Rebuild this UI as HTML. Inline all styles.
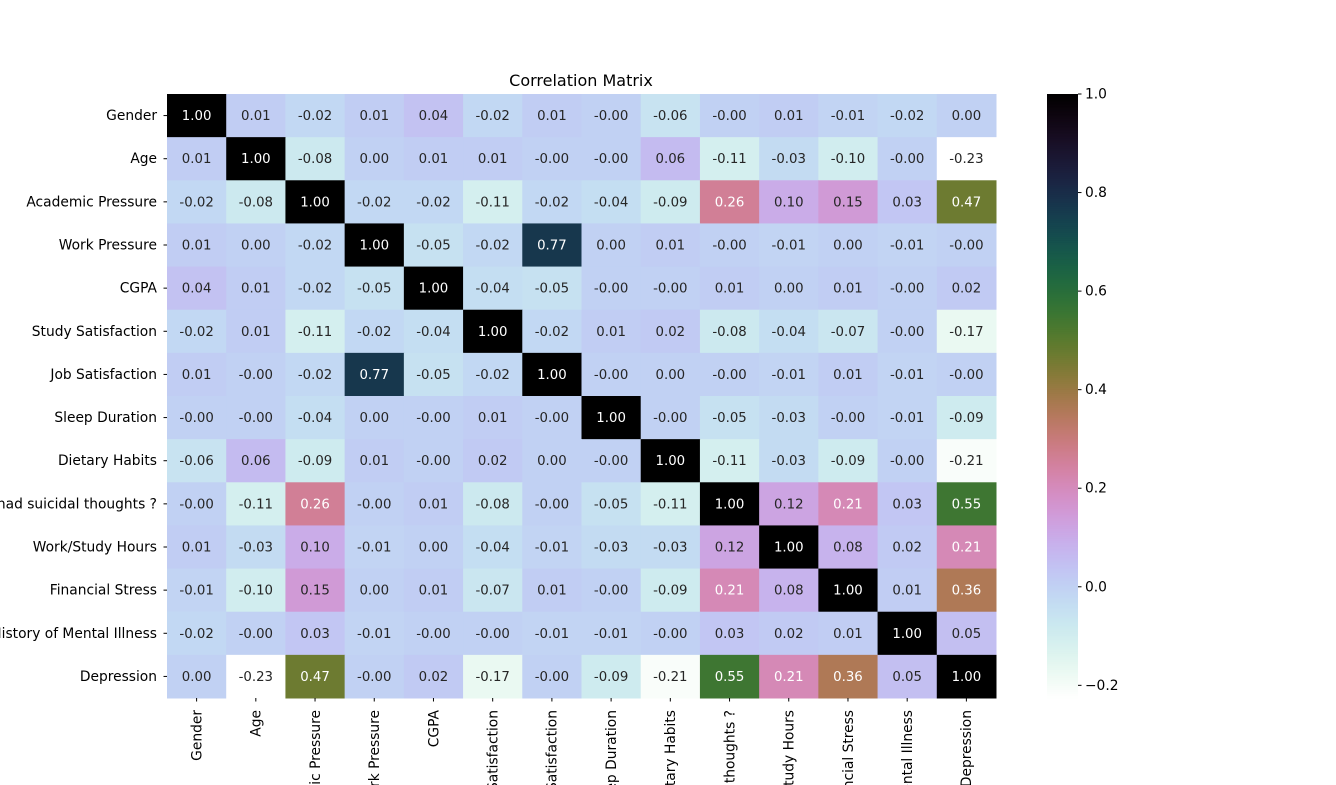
<!DOCTYPE html>
<html><head><meta charset="utf-8"><style>
html,body{margin:0;padding:0;background:#fff;width:1336px;height:785px;overflow:hidden}
svg{display:block;overflow:hidden;font-family:"DejaVu Sans","Liberation Sans",sans-serif}
</style></head><body>
<svg id="chart" width="1336" height="785" xmlns="http://www.w3.org/2000/svg">
<text x="581" y="86" text-anchor="middle" font-size="16">Correlation Matrix</text>
<g id="cells"></g><g id="ylabels"></g><g id="xlabels"></g><g id="cbar"></g>
</svg>
<script>
const labels = ["Gender","Age","Academic Pressure","Work Pressure","CGPA","Study Satisfaction","Job Satisfaction","Sleep Duration","Dietary Habits","Have you ever had suicidal thoughts ?","Work/Study Hours","Financial Stress","Family History of Mental Illness","Depression"];
const Z=-0.001;
const matrix = [
[1.00,0.01,-0.02,0.01,0.04,-0.02,0.01,Z,-0.06,Z,0.01,-0.01,-0.02,0.00],
[0.01,1.00,-0.08,0.00,0.01,0.01,Z,Z,0.06,-0.11,-0.03,-0.10,Z,-0.23],
[-0.02,-0.08,1.00,-0.02,-0.02,-0.11,-0.02,-0.04,-0.09,0.26,0.10,0.15,0.03,0.47],
[0.01,0.00,-0.02,1.00,-0.05,-0.02,0.77,0.00,0.01,Z,-0.01,0.00,-0.01,Z],
[0.04,0.01,-0.02,-0.05,1.00,-0.04,-0.05,Z,Z,0.01,0.00,0.01,Z,0.02],
[-0.02,0.01,-0.11,-0.02,-0.04,1.00,-0.02,0.01,0.02,-0.08,-0.04,-0.07,Z,-0.17],
[0.01,Z,-0.02,0.77,-0.05,-0.02,1.00,Z,0.00,Z,-0.01,0.01,-0.01,Z],
[Z,Z,-0.04,0.00,Z,0.01,Z,1.00,Z,-0.05,-0.03,Z,-0.01,-0.09],
[-0.06,0.06,-0.09,0.01,Z,0.02,0.00,Z,1.00,-0.11,-0.03,-0.09,Z,-0.21],
[Z,-0.11,0.26,Z,0.01,-0.08,Z,-0.05,-0.11,1.00,0.12,0.21,0.03,0.55],
[0.01,-0.03,0.10,-0.01,0.00,-0.04,-0.01,-0.03,-0.03,0.12,1.00,0.08,0.02,0.21],
[-0.01,-0.10,0.15,0.00,0.01,-0.07,0.01,Z,-0.09,0.21,0.08,1.00,0.01,0.36],
[-0.02,Z,0.03,-0.01,Z,Z,-0.01,-0.01,Z,0.03,0.02,0.01,1.00,0.05],
[0.00,-0.23,0.47,Z,0.02,-0.17,Z,-0.09,-0.21,0.55,0.21,0.36,0.05,1.00]];
const cbarTicks = [-0.2,0.0,0.2,0.4,0.6,0.8,1.0];
const vmin=-0.2257, vmax=1.0;
const X0=167,X1=996,Y0=94,Y1=698;
const FS=13.8;
const n=labels.length, cw=(X1-X0)/n, ch=(Y1-Y0)/n;
const NS="http://www.w3.org/2000/svg";
function cube(v){
  let t=(v-vmin)/(vmax-vmin); t=Math.max(0,Math.min(1,t)); const x=1-t;
  const a=x*(1-x)/2, phi=2*Math.PI*(0.5/3-1.5*x), c=Math.cos(phi), s=Math.sin(phi);
  const cl=q=>Math.max(0,Math.min(1,q));
  return [cl(x+a*(-0.14861*c+1.78277*s)),cl(x+a*(-0.29227*c-0.90649*s)),cl(x+a*(1.97294*c))];
}
function rgb(c){return `rgb(${c.map(q=>Math.round(q*255)).join(',')})`;}
function lum(c){const f=q=>q<=0.03928?q/12.92:Math.pow((q+0.055)/1.055,2.4);return 0.2126*f(c[0])+0.7152*f(c[1])+0.0722*f(c[2]);}
function el(t,at,p){const e=document.createElementNS(NS,t);for(const k in at)e.setAttribute(k,at[k]);p.appendChild(e);return e;}
const cells=document.getElementById('cells');
for(let i=0;i<n;i++)for(let j=0;j<n;j++){
  const v=matrix[i][j], c=cube(v);
  const r=el('rect',{x:X0+j*cw,y:Y0+i*ch,width:cw+0.5,height:ch+0.5,fill:rgb(c)},cells);
  
  
  const t=el('text',{x:X0+(j+0.5)*cw,y:Y0+(i+0.5)*ch+4.5,'text-anchor':'middle','font-size':13.3,fill:lum(c)<0.408?'#fff':'#262626'},cells);
  
  
  t.textContent=v.toFixed(2);
}
const yl=document.getElementById('ylabels'), xl=document.getElementById('xlabels');
labels.forEach((l,i)=>{
  const y=Y0+(i+0.5)*ch;
  el('line',{x1:X0-3.5,x2:X0,y1:y,y2:y,stroke:'#000'},yl);
  const t=el('text',{x:X0-10,y:y+4.5,'text-anchor':'end','font-size':FS},yl);
  
  
  t.textContent=l;
  const x=X0+(i+0.5)*cw;
  el('line',{x1:x,x2:x,y1:Y1,y2:Y1+3.5,stroke:'#000'},xl);
  const u=el('text',{x:0,y:0,'text-anchor':'end','font-size':FS,transform:`translate(${x+4.8},${Y1+12}) rotate(-90)`},xl);
  
  
  u.textContent=l;
});
const cb=document.getElementById('cbar');
const CX=1047,CW=31;
for(let k=0;k<300;k++){
  const y0=Y0+k*(Y1-Y0)/300, v=vmax-(k+0.5)/300*(vmax-vmin);
  el('rect',{x:CX,y:y0,width:CW,height:(Y1-Y0)/300+0.6,fill:rgb(cube(v))},cb);
}
cbarTicks.forEach(v=>{
  const y=Y0+(vmax-v)/(vmax-vmin)*(Y1-Y0);
  el('line',{x1:CX+CW,x2:CX+CW+3.5,y1:y,y2:y,stroke:'#000'},cb);
  const t=el('text',{x:CX+CW+7,y:y+4.5,'font-size':FS},cb);
  
  
  t.textContent=v<0?'\u2212'+Math.abs(v).toFixed(1):v.toFixed(1);
});
</script>
</body></html>
